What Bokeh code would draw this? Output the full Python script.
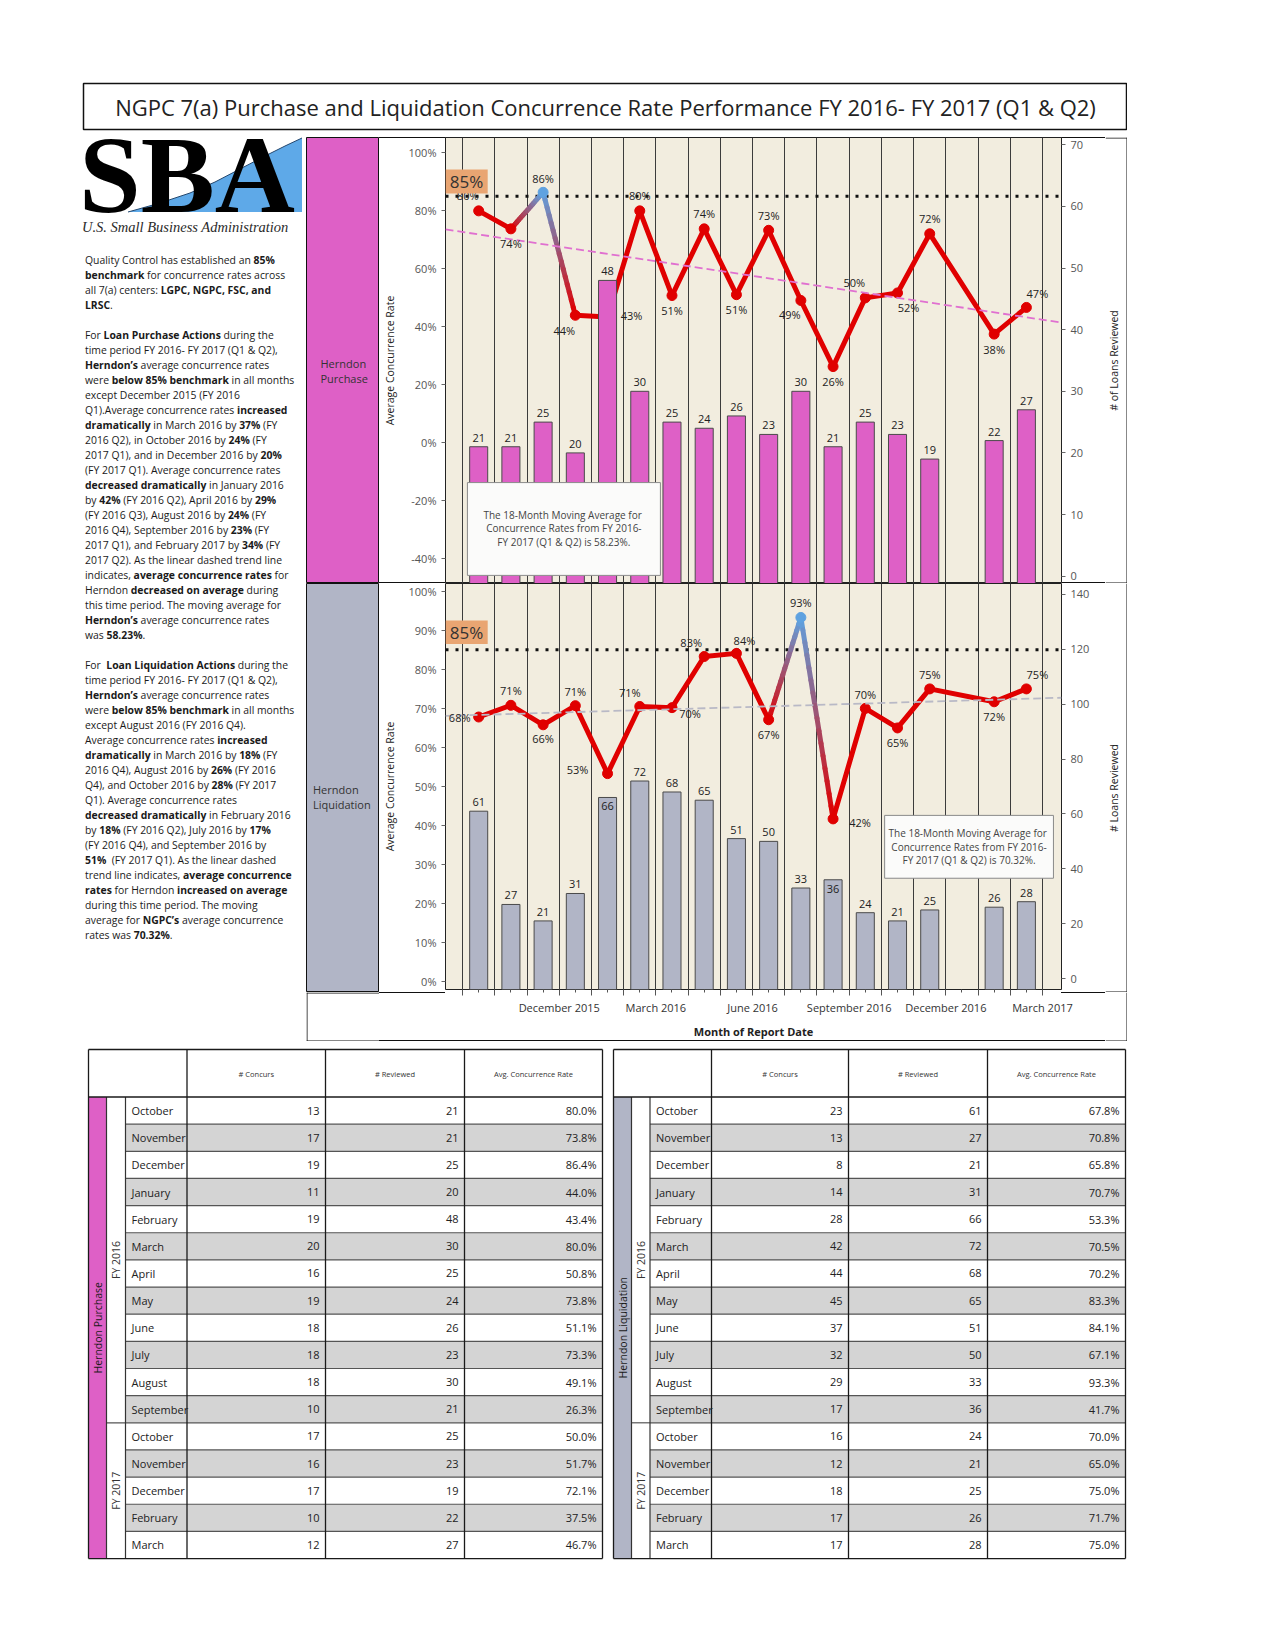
import numpy as np
from bokeh.plotting import figure
from bokeh.layouts import column, row
from bokeh.models import Range1d, LinearAxis, FixedTicker, Div, Grid
from bokeh.embed import file_html
from bokeh.resources import INLINE
from bokeh.core.properties import value

# ---------------- data ----------------
months = ["2015-10", "2015-11", "2015-12", "2016-01", "2016-02", "2016-03", "2016-04",
          "2016-05", "2016-06", "2016-07", "2016-08", "2016-09", "2016-10", "2016-11",
          "2016-12", "2017-02", "2017-03"]
month_names = ["October", "November", "December", "January", "February", "March", "April",
               "May", "June", "July", "August", "September", "October", "November",
               "December", "February", "March"]
fiscal_years = ["FY 2016"] * 12 + ["FY 2017"] * 5

purch_concurs = [13, 17, 19, 11, 19, 20, 16, 19, 18, 18, 18, 10, 17, 16, 17, 10, 12]
purch_reviewed = [21, 21, 25, 20, 48, 30, 25, 24, 26, 23, 30, 21, 25, 23, 19, 22, 27]
purch_rate = [80.0, 73.8, 86.4, 44.0, 43.4, 80.0, 50.8, 73.8, 51.1, 73.3, 49.1, 26.3,
              50.0, 51.7, 72.1, 37.5, 46.7]

liq_concurs = [23, 13, 8, 14, 28, 42, 44, 45, 37, 32, 29, 17, 16, 12, 18, 17, 17]
liq_reviewed = [61, 27, 21, 31, 66, 72, 68, 65, 51, 50, 33, 36, 24, 21, 25, 26, 28]
liq_rate = [67.8, 70.8, 65.8, 70.7, 53.3, 70.5, 70.2, 83.3, 84.1, 67.1, 93.3, 41.7,
            70.0, 65.0, 75.0, 71.7, 75.0]

benchmark = 85
purch_moving_avg = 58.23
liq_moving_avg = 70.32

axis_tick_labels = {"2015-12": "December 2015", "2016-03": "March 2016", "2016-06": "June 2016",
                    "2016-09": "September 2016", "2016-12": "December 2016", "2017-03": "March 2017"}
purch_pct_ticks = [-40, -20, 0, 20, 40, 60, 80, 100]
purch_cnt_ticks = [0, 10, 20, 30, 40, 50, 60, 70]
liq_pct_ticks = [0, 10, 20, 30, 40, 50, 60, 70, 80, 90, 100]
liq_cnt_ticks = [0, 20, 40, 60, 80, 100, 120, 140]

# ---------------- styles ----------------
FONT = "Open Sans"
BEIGE = "#F2EDDF"
MAGENTA = "#DE60C6"
GREY = "#B1B5C6"
RED = "#E00000"
BLUE = "#5FA2E0"
XMIN, XMAX = -1.03, 18.09
CHART_W, BL, BR = 726, 66, 44   # chart figure width, left / right borders (frame 616)

# label offsets in screen px (dx right, dy up)
purch_lbl_off = [(-11, 15), (0, -15), (0, 14), (-11, -15), (24, 2), (0, 15), (0, -15), (0, 15),
                 (0, -15), (0, 15), (-11, -14), (0, -15), (-11, 15), (11, -15), (0, 15),
                 (0, -15), (11, 14)]
liq_lbl_off = [(-19, 0), (0, 15), (0, -14), (0, 14), (-30, 4), (-10, 14), (18, -6), (-13, 14),
               (8, 13), (0, -15), (0, 15), (27, -4), (0, 14), (0, -15), (0, 14), (0, -15), (11, 14)]
liq_bar_inside = [False] * 4 + [True] + [False] * 6 + [True] + [False] * 5
purch_bar_inside = [False] * 17


def midx(m):
    y, mo = map(int, m.split("-"))
    return (y - 2015) * 12 + mo - 10


idx = np.array([midx(m) for m in months], dtype=float)


def hex2rgb(h):
    h = h.lstrip("#")
    return [int(h[i:i + 2], 16) for i in (0, 2, 4)]


def mix(c0, c1, t):
    a, b = hex2rgb(c0), hex2rgb(c1)
    return "#%02x%02x%02x" % tuple(int(round(a[k] + (b[k] - a[k]) * t)) for k in range(3))


def grad_segments(x, y, cols, n=16):
    X0, Y0, X1, Y1, C = [], [], [], [], []
    for i in range(len(x) - 1):
        c0, c1 = cols[i], cols[i + 1]
        steps = 1 if c0 == c1 else n
        for k in range(steps):
            t0, t1 = k / steps, (k + 1) / steps
            X0.append(x[i] + (x[i + 1] - x[i]) * t0)
            Y0.append(y[i] + (y[i + 1] - y[i]) * t0)
            X1.append(x[i] + (x[i + 1] - x[i]) * t1)
            Y1.append(y[i] + (y[i + 1] - y[i]) * t1)
            C.append(c0 if steps == 1 else mix(c0, c1, (t0 + t1) / 2))
    return X0, Y0, X1, Y1, C


def pct_label(v):
    return "%d%%" % int(np.floor(v + 0.5))


def make_chart(rate, reviewed, bar_color, trend_color, pct_range, pct_ticks, cnt_range,
               cnt_ticks, height, xaxis, lbl_off, bar_inside, box, box_lines, bench_box,
               moving_avg):
    bottom_border = 49 if xaxis else 0
    frame_h = height - bottom_border
    if xaxis:
        css = {"background-color": "white",
               "box-shadow": "inset 0 -1px 0 #111111",
               "background-image": "linear-gradient(#111,#111), linear-gradient(#111,#111)",
               "background-size": "%dpx 1px, %dpx 1px" % (BL, BR),
               "background-position": "0px %dpx, %dpx %dpx" % (frame_h, CHART_W - BR, frame_h),
               "background-repeat": "no-repeat"}
    else:
        css = {"background-color": "white",
               "box-shadow": "inset 0 1px 0 #111111, inset 0 -1px 0 #111111"}
    p = figure(width=CHART_W, height=height, x_range=Range1d(XMIN, XMAX),
               y_range=Range1d(*pct_range), output_backend="svg", toolbar_location=None,
               x_axis_location="below" if xaxis else None,
               min_border_left=BL, min_border_right=BR, min_border_top=0,
               min_border_bottom=bottom_border,
               background_fill_color=BEIGE, border_fill_color=None,
               outline_line_color="#222222", outline_line_width=1, styles=css)
    p.extra_y_ranges = {"cnt": Range1d(*cnt_range)}
    p.grid.grid_line_color = None
    gridticks = [i + 0.5 for i in range(-1, 18)]
    p.add_layout(Grid(dimension=0, ticker=FixedTicker(ticks=gridticks),
                      grid_line_color="#3C3C3C", grid_line_width=1))

    yax = p.yaxis[0]
    yax.ticker = FixedTicker(ticks=pct_ticks)
    yax.major_label_overrides = {t: "%d%%" % t for t in pct_ticks}
    yax.axis_label = "Average Concurrence Rate"
    yax.axis_label_standoff = 9

    rax = LinearAxis(y_range_name="cnt", ticker=FixedTicker(ticks=cnt_ticks))
    p.add_layout(rax, "right")

    for ax in [yax, rax]:
        ax.axis_line_color = None
        ax.major_tick_line_color = "#666666"
        ax.minor_tick_line_color = None
        ax.major_tick_out = 4
        ax.major_tick_in = 0
        ax.major_label_standoff = 5
        ax.major_label_text_font = FONT
        ax.major_label_text_font_size = "11px"
        ax.major_label_text_color = "#555555"
        ax.axis_label_text_font = FONT
        ax.axis_label_text_font_size = "10.5px"
        ax.axis_label_text_font_style = "normal"
        ax.axis_label_text_color = "#222222"

    if xaxis:
        xa = p.xaxis[0]
        labels = {}
        for t in gridticks:
            labels[t] = ""
        for m, lab in axis_tick_labels.items():
            labels[midx(m) + 0.5] = lab
        xa.ticker = FixedTicker(ticks=gridticks, minor_ticks=list(range(0, 18)))
        xa.major_label_overrides = labels
        xa.axis_label = "Month of Report Date"
        xa.axis_line_color = None
        xa.major_tick_line_color = "#555555"
        xa.minor_tick_line_color = "#555555"
        xa.major_tick_out = 6
        xa.major_tick_in = 0
        xa.minor_tick_out = 3
        xa.minor_tick_in = 0
        xa.major_label_standoff = 4
        xa.major_label_text_font = FONT
        xa.major_label_text_font_size = "11px"
        xa.major_label_text_color = "#333333"
        xa.axis_label_standoff = 6
        xa.axis_label_text_font = FONT
        xa.axis_label_text_font_size = "11px"
        xa.axis_label_text_font_style = "bold"
        xa.axis_label_text_color = "#222222"

    # benchmark dotted line
    p.line(x=[XMIN, XMAX], y=[benchmark, benchmark], line_color="#111111", line_width=3,
           line_dash="3 7")

    # concurrence rate line with colour gradient
    cols = [BLUE if r > benchmark else RED for r in rate]
    X0, Y0, X1, Y1, C = grad_segments(list(idx), list(rate), cols)
    p.segment(x0=X0, y0=Y0, x1=X1, y1=Y1, line_color=C, line_width=5, line_cap="round")
    p.scatter(x=idx, y=rate, size=10, fill_color=cols, line_color=cols)

    # linear trend
    k, b = np.polyfit(idx, np.array(rate), 1)
    p.line(x=[XMIN, XMAX], y=[k * XMIN + b, k * XMAX + b], line_color=trend_color,
           line_width=1.8, line_dash="8 4")

    # bars
    p.vbar(x=idx, top=reviewed, bottom=cnt_range[0], width=0.56, y_range_name="cnt",
           fill_color=bar_color, line_color="#4A4A4A", line_width=1)
    p.text(x=idx, y=reviewed, text=[str(v) for v in reviewed], y_range_name="cnt",
           y_offset=[9 if ins else -9 for ins in bar_inside],
           text_align="center", text_baseline="middle", text_font=value(FONT),
           text_font_size="11px", text_color="#222222")

    # line labels
    p.text(x=idx, y=rate, text=[pct_label(r) for r in rate],
           x_offset=[o[0] for o in lbl_off], y_offset=[-o[1] for o in lbl_off],
           text_align="center", text_baseline="middle", text_font=value(FONT),
           text_font_size="11px", text_color="#222222")

    # moving average note
    l, r, bt, tp = box
    p.quad(left=[l], right=[r], bottom=[bt], top=[tp], fill_color="#FBFBFA",
           line_color="#8A8A8A", line_width=1)
    p.text(x=[(l + r) / 2] * 3, y=box_lines,
           text=["The  18-Month Moving Average for", "Concurrence Rates from FY 2016-",
                 "FY 2017 (Q1 & Q2) is %.2f%%." % moving_avg],
           text_align="center", text_baseline="middle", text_font=value(FONT),
           text_font_size="10px", text_color="#444444")

    # benchmark badge
    bl, br, bb, bt2 = bench_box
    p.quad(left=[bl], right=[br], bottom=[bb], top=[bt2], fill_color="#E9A572",
           line_color=None)
    p.text(x=[(bl + br) / 2], y=[(bb + bt2) / 2], text=["%d%%" % benchmark],
           text_align="center", text_baseline="middle", text_font=value(FONT),
           text_font_size="17px", text_color="#333333")
    return p


purch_fig = make_chart(purch_rate, purch_reviewed, MAGENTA, "#E070D0", (-48.5, 105.3),
                       purch_pct_ticks, (-1.2, 71.2), purch_cnt_ticks, 446, False,
                       purch_lbl_off, purch_bar_inside, (-0.35, 5.64, -45.7, -13.7),
                       [-24.8, -29.5, -34.1], (XMIN, 0.28, 86.0, 94.3), purch_moving_avg)

liq_fig = make_chart(liq_rate, liq_reviewed, GREY, "#B9B9C6", (-2, 102), liq_pct_ticks,
                     (-4, 144), liq_cnt_ticks, 458, True, liq_lbl_off, liq_bar_inside,
                     (12.6, 17.84, 26.5, 42.6), [38.2, 34.6, 31.2], (XMIN, 0.28, 86.5, 92.5),
                     liq_moving_avg)


def blank(w, h, bg="white"):
    p = figure(width=w, height=h, x_range=Range1d(0, w), y_range=Range1d(0, h),
               output_backend="svg", toolbar_location=None, x_axis_location=None,
               y_axis_location=None, min_border=0, background_fill_color=bg,
               border_fill_color=bg, outline_line_color=None)
    p.grid.grid_line_color = None
    return p


# ---------------- header (page y 0..137) ----------------
header = blank(1127, 137)
header.quad(left=[83], right=[1126], bottom=[8], top=[54], fill_color="white",
            line_color="#111111", line_width=1.5)
header.text(x=[605], y=[31], text=["NGPC 7(a) Purchase and Liquidation Concurrence Rate "
                                   "Performance FY 2016- FY 2017 (Q1 & Q2)"],
            text_align="center", text_baseline="middle", text_font=value(FONT),
            text_font_size="22px", text_color="#222222")

# ---------------- logo (page y 137..253), inline svg drawn from y = 103 ----------------
SVG_TOP = 103
blue_pts = [(128, 212), (160, 203), (190, 193), (215, 182), (240, 169), (265, 156),
            (285, 146), (302, 138)]
poly = " ".join("%g,%g" % (px, py - SVG_TOP) for px, py in blue_pts + [(302, 212)])
curve = " ".join("%g,%g" % (px, py - SVG_TOP) for px, py in blue_pts)
logo_html = (
    '<div style="position:relative;width:306px;height:116px;">'
    '<svg xmlns="http://www.w3.org/2000/svg" width="306" height="150" '
    'style="position:absolute;left:0;top:-34px;overflow:visible">'
    '<polygon points="%s" style="fill:#5EA9E8;stroke:none"/>'
    '<polyline points="%s" style="fill:none;stroke:#24476E;stroke-width:1"/>'
    '<text style="font-family:\'Liberation Serif\',serif;fill:#000000">'
    '<tspan x="79" y="%g" style="font-weight:bold;font-size:111px;fill:#000000">SBA</tspan>'
    '<tspan x="82" y="%g" style="font-style:italic;font-weight:normal;font-size:14.5px;'
    'fill:#2a2a2a">U.S. Small Business Administration</tspan>'
    '</text></svg></div>' % (poly, curve, 212 - SVG_TOP, 231.5 - SVG_TOP))
logo = Div(text=logo_html, width=306, height=116, margin=(0, 0, 0, 0),
           styles={"overflow": "visible"})

para = [
    "Quality Control has established an <b>85%</b>",
    "<b>benchmark</b> for concurrence rates across",
    "all 7(a) centers: <b>LGPC, NGPC, FSC, and</b>",
    "<b>LRSC</b>.",
    "",
    "For <b>Loan Purchase Actions</b> during the",
    "time period FY 2016- FY 2017 (Q1 &amp; Q2),",
    "<b>Herndon\u2019s</b> average concurrence rates",
    "were <b>below 85% benchmark</b> in all months",
    "except December 2015 (FY 2016",
    "Q1).Average concurrence rates <b>increased</b>",
    "<b>dramatically</b> in March 2016 by <b>37%</b> (FY",
    "2016 Q2), in October 2016 by <b>24%</b> (FY",
    "2017 Q1), and in December 2016 by <b>20%</b>",
    "(FY 2017 Q1). Average concurrence rates",
    "<b>decreased dramatically</b> in January 2016",
    "by <b>42%</b> (FY 2016 Q2), April 2016 by <b>29%</b>",
    "(FY 2016 Q3), August 2016 by <b>24%</b> (FY",
    "2016 Q4), September 2016 by <b>23%</b> (FY",
    "2017 Q1), and February 2017 by <b>34%</b> (FY",
    "2017 Q2). As the linear dashed trend line",
    "indicates, <b>average concurrence rates</b> for",
    "Herndon <b>decreased on average</b> during",
    "this time period. The moving average for",
    "<b>Herndon\u2019s</b> average concurrence rates",
    "was <b>58.23%</b>.",
    "",
    "For&nbsp; <b>Loan Liquidation Actions</b> during the",
    "time period FY 2016- FY 2017 (Q1 &amp; Q2),",
    "<b>Herndon\u2019s</b> average concurrence rates",
    "were <b>below 85% benchmark</b> in all months",
    "except August 2016 (FY 2016 Q4).",
    "Average concurrence rates <b>increased</b>",
    "<b>dramatically</b> in March 2016 by <b>18%</b> (FY",
    "2016 Q4), August 2016 by <b>26%</b> (FY 2016",
    "Q4), and October 2016 by <b>28%</b> (FY 2017",
    "Q1). Average concurrence rates",
    "<b>decreased dramatically</b> in February 2016",
    "by <b>18%</b> (FY 2016 Q2), July 2016 by <b>17%</b>",
    "(FY 2016 Q4), and September 2016 by",
    "<b>51%</b>&nbsp; (FY 2017 Q1). As the linear dashed",
    "trend line indicates, <b>average concurrence</b>",
    "<b>rates</b> for Herndon <b>increased on average</b>",
    "during this time period. The moving",
    "average for <b>NGPC\u2019s</b> average concurrence",
    "rates was <b>70.32%</b>.",
]
html = "<br>".join(l if l else "&nbsp;" for l in para)
text_div = Div(text=html, width=306, height=788, margin=(0, 0, 0, 0),
               styles={"font-family": "'Open Sans'", "font-size": "10.4px",
                       "line-height": "15px", "color": "#1a1a1a", "padding-left": "85px",
                       "white-space": "nowrap", "box-sizing": "border-box"})

left_col = column(logo, text_div, spacing=0)

# ---------------- strips ----------------
ps = blank(73, 446, MAGENTA)
ps.outline_line_color = "#111111"
ps.text(x=[14, 14], y=[446 - (363 - 137), 446 - (378 - 137)], text=["Herndon", "Purchase"],
        text_align="left", text_baseline="middle", text_font=value(FONT),
        text_font_size="11px", text_color="#333333")
ls = blank(73, 409, GREY)
ls.outline_line_color = "#111111"
ls.text(x=[6.5, 6.5], y=[409 - (789 - 583), 409 - (804 - 583)],
        text=["Herndon", "Liquidation"], text_align="left", text_baseline="middle",
        text_font=value(FONT), text_font_size="11px", text_color="#333333")
bb = blank(73, 49)
bb.segment(x0=[0.5, 0, 0], y0=[0, 0.5, 48.5], x1=[0.5, 73, 73], y1=[49, 0.5, 48.5],
           line_color="#111111", line_width=1)
strip_col = column(ps, ls, bb, spacing=0)
charts_col = column(purch_fig, liq_fig, spacing=0)

# ---------------- right-hand axis titles (page x 1105..1127) ----------------
RW = 22
r1 = blank(RW, 446)
r1.segment(x0=[0, RW - 0.5, 0], y0=[445.5, 0, 0.5], x1=[RW, RW - 0.5, RW], y1=[445.5, 446, 0.5],
           line_color="#111111", line_width=1)
r1.text(x=[8], y=[223], text=["# of Loans Reviewed"], angle=np.pi / 2, text_align="center",
        text_baseline="middle", text_font=value(FONT), text_font_size="10.5px",
        text_color="#222222")
r2 = blank(RW, 409)
r2.segment(x0=[RW - 0.5, 0], y0=[0, 0.5], x1=[RW - 0.5, RW], y1=[409, 0.5],
           line_color="#111111", line_width=1)
r2.text(x=[8], y=[204.5], text=["# Loans Reviewed"], angle=np.pi / 2, text_align="center",
        text_baseline="middle", text_font=value(FONT), text_font_size="10.5px",
        text_color="#222222")
r3 = blank(RW, 49)
r3.segment(x0=[RW - 0.5, 0], y0=[0, 0.5], x1=[RW - 0.5, RW], y1=[49, 0.5],
           line_color="#111111", line_width=1)
right_col = column(r1, r2, r3, spacing=0)

middle = row(left_col, strip_col, charts_col, right_col, spacing=0)

# ---------------- tables (page y 1041..1565) ----------------
TW, TH = 1127, 524
tables = blank(TW, TH)


def fx(px):
    return px


def fy(py):
    return TH - (py - 1041)


def draw_table(p, xs, strip_color, strip_label, concurs, reviewed, rate):
    x_strip, x_fy, x_mon, x_c1, x_c2, x_c3, x_end = xs
    top, hdr, rh = 1049.0, 1096.5, 27.15
    n = len(concurs)
    bot = hdr + n * rh
    odd = [i for i in range(n) if i % 2 == 1]
    p.quad(left=fx(x_mon), right=fx(x_end), top=[fy(hdr + i * rh) for i in odd],
           bottom=[fy(hdr + (i + 1) * rh) for i in odd], fill_color="#D4D4D4",
           line_color=None)
    p.quad(left=[fx(x_strip)], right=[fx(x_fy)], top=[fy(hdr)], bottom=[fy(bot)],
           fill_color=strip_color, line_color=None)
    ys = [fy(hdr + i * rh) for i in range(1, n)]
    p.segment(x0=fx(x_mon), x1=fx(x_end), y0=ys, y1=ys, line_color="#555555", line_width=1.2)
    groups = []
    for i, fyv in enumerate(fiscal_years):
        if not groups or groups[-1][0] != fyv:
            groups.append([fyv, i, i])
        else:
            groups[-1][2] = i
    for g in groups[1:]:
        yy = fy(hdr + g[1] * rh)
        p.segment(x0=[fx(x_fy)], x1=[fx(x_mon)], y0=[yy], y1=[yy], line_color="#555555",
                  line_width=1.2)
    p.text(x=[(fx(x_fy) + fx(x_mon)) / 2] * len(groups),
           y=[fy(hdr + (g[1] + g[2] + 1) / 2 * rh) for g in groups],
           text=[g[0] for g in groups], angle=np.pi / 2, text_align="center",
           text_baseline="middle", text_font=value(FONT), text_font_size="10.5px",
           text_color="#333333")
    p.text(x=[(fx(x_strip) + fx(x_fy)) / 2], y=[fy((hdr + bot) / 2)], text=[strip_label],
           angle=np.pi / 2, text_align="center", text_baseline="middle",
           text_font=value(FONT), text_font_size="10.5px", text_color="#1a1a1a")
    vx = [x_fy, x_mon]
    p.segment(x0=[fx(v) for v in vx], x1=[fx(v) for v in vx], y0=fy(hdr), y1=fy(bot),
              line_color="#333333", line_width=1.2)
    vx2 = [x_strip, x_c1, x_c2, x_c3, x_end]
    p.segment(x0=[fx(v) for v in vx2], x1=[fx(v) for v in vx2], y0=fy(top), y1=fy(bot),
              line_color="#1a1a1a", line_width=1.3)
    hy = [top, hdr, bot]
    p.segment(x0=fx(x_strip), x1=fx(x_end), y0=[fy(v) for v in hy], y1=[fy(v) for v in hy],
              line_color="#1a1a1a", line_width=1.3)
    p.text(x=[(fx(x_c1) + fx(x_c2)) / 2, (fx(x_c2) + fx(x_c3)) / 2,
              (fx(x_c3) + fx(x_end)) / 2], y=[fy(1073)] * 3,
           text=["# Concurs", "# Reviewed", "Avg. Concurrence Rate"], text_align="center",
           text_baseline="middle", text_font=value(FONT), text_font_size="7.5px",
           text_color="#333333")
    rows_y = [fy(hdr + (i + 0.5) * rh) for i in range(n)]
    p.text(x=[fx(x_mon) + 6] * n, y=rows_y, text=month_names, text_align="left",
           text_baseline="middle", text_font=value(FONT), text_font_size="11px",
           text_color="#222222")
    for col_right, vals in [(x_c2, [str(v) for v in concurs]),
                            (x_c3, [str(v) for v in reviewed]),
                            (x_end, ["%.1f%%" % v for v in rate])]:
        p.text(x=[fx(col_right) - 6] * n, y=rows_y, text=vals, text_align="right",
               text_baseline="middle", text_font=value(FONT), text_font_size="11px",
               text_color="#222222")


draw_table(tables, (88, 106, 125, 186.5, 325, 464, 602), MAGENTA, "Herndon Purchase",
           purch_concurs, purch_reviewed, purch_rate)
draw_table(tables, (613, 631, 649.5, 711, 848, 987, 1125), GREY, "Herndon Liquidation",
           liq_concurs, liq_reviewed, liq_rate)

root = column(header, middle, tables, spacing=0)
open("out.html", "w").write(file_html(root, INLINE))
